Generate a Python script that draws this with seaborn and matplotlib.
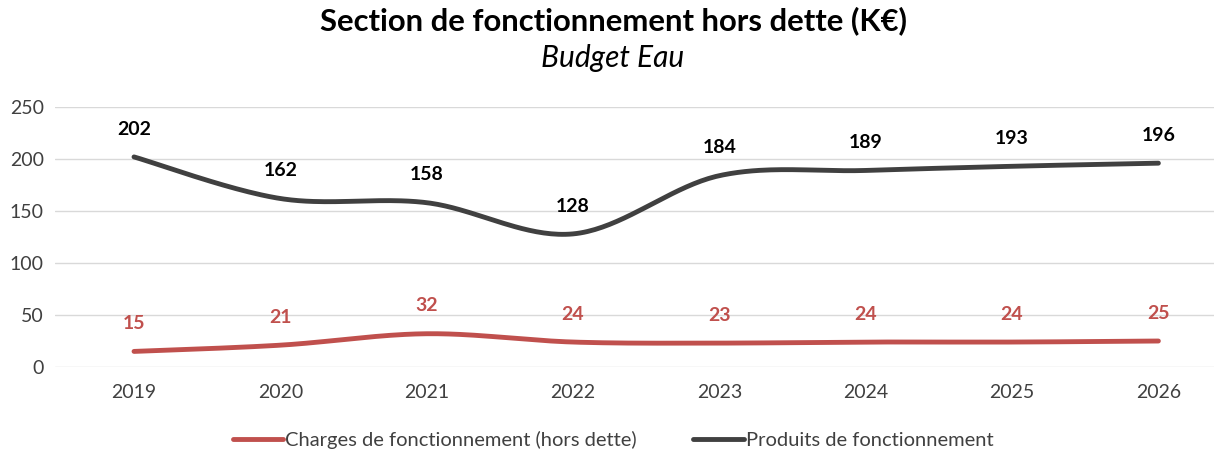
import numpy as np
import pandas as pd
import matplotlib
matplotlib.use("Agg")
import matplotlib.pyplot as plt
import seaborn as sns

years = ["2019", "2020", "2021", "2022", "2023", "2024", "2025", "2026"]
charges = [15, 21, 32, 24, 23, 24, 24, 25]
produits = [202, 162, 158, 128, 184, 189, 193, 196]

series_names = ["Charges de fonctionnement (hors dette)", "Produits de fonctionnement"]
series_values = [charges, produits]
series_colors = ["#C0504D", "#404040"]

sns.set_theme(style="white")
plt.rcParams["font.family"] = ["Lato", "DejaVu Sans"]


def smooth_curve(values, steps=40):
    """Bezier smoothing through every point (spreadsheet-style smoothed line)."""
    y = np.asarray(values, dtype=float)
    x = np.arange(len(y), dtype=float)
    pts = np.column_stack([x, y])
    n = len(pts)
    out = []
    for i in range(n - 1):
        p0 = pts[max(i - 1, 0)]
        p1 = pts[i]
        p2 = pts[i + 1]
        p3 = pts[min(i + 2, n - 1)]
        c1 = p1 + (p2 - p0) / 6.0
        c2 = p2 - (p3 - p1) / 6.0
        t = np.linspace(0, 1, steps, endpoint=(i == n - 2))[:, None]
        seg = ((1 - t) ** 3) * p1 + 3 * ((1 - t) ** 2) * t * c1 + 3 * (1 - t) * t ** 2 * c2 + t ** 3 * p2
        out.append(seg)
    return np.vstack(out)


fig = plt.figure(figsize=(12.14, 4.54), dpi=100)
ax = fig.add_axes([0.0453, 0.1916, 0.9547, 0.5727])

frames = []
for name, vals in zip(series_names, series_values):
    c = smooth_curve(vals)
    frames.append(pd.DataFrame({"x": c[:, 0], "y": c[:, 1], "serie": name}))
df = pd.concat(frames, ignore_index=True)

sns.lineplot(data=df, x="x", y="y", hue="serie", palette=dict(zip(series_names, series_colors)),
             linewidth=3.5, sort=False, estimator=None, ax=ax, legend=False)
for line in ax.lines:
    line.set_solid_capstyle("round")

# value labels above each point
for vals, col in zip(series_values, series_colors):
    label_col = "#000000" if col == "#404040" else col
    for i, v in enumerate(vals):
        ax.annotate(str(v), (i, v), xytext=(0, 20), textcoords="offset points",
                    ha="center", va="center", fontsize=14, fontweight="bold", color=label_col)

ax.set_xlim(-0.54, 7.38)
ax.set_ylim(0, 250)
ax.set_yticks([0, 50, 100, 150, 200, 250])
ax.set_xticks(range(len(years)))
ax.set_xticklabels(years)
ax.tick_params(axis="both", labelsize=14, colors="#404040", length=0)
ax.tick_params(axis="x", pad=12)
ax.tick_params(axis="y", pad=8)
ax.set_xlabel("")
ax.set_ylabel("")
ax.yaxis.grid(True, color="#D9D9D9", linewidth=1)
ax.xaxis.grid(False)
for s in ax.spines.values():
    s.set_visible(False)

fig.text(0.505, 0.955, "Section de fonctionnement hors dette (K€)", ha="center", va="center",
         fontsize=22.3, fontweight="bold", color="#000000")
fig.text(0.505, 0.872, "Budget Eau", ha="center", va="center",
         fontsize=21.5, fontstyle="italic", color="#000000")

handles = [plt.Line2D([], [], color=c, linewidth=3.5, solid_capstyle="round") for c in series_colors]
fig.legend(handles, series_names, loc="center", bbox_to_anchor=(0.505, 0.03), ncol=2,
           frameon=False, fontsize=14.5, handlelength=2.5, handletextpad=0.1, columnspacing=2.8,
           labelcolor="#404040")

fig.savefig("out.png", dpi=100, facecolor="white")
